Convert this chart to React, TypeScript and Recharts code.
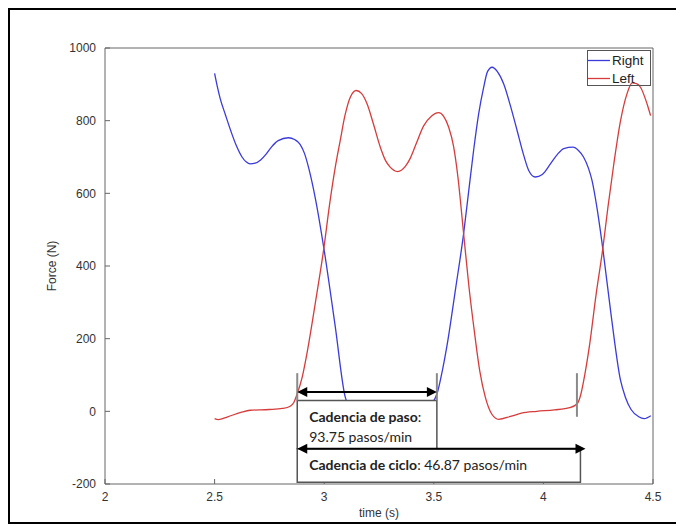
import React from 'react';
import { LineChart, Line, XAxis, YAxis, ReferenceArea, ReferenceLine, Legend } from 'recharts';

// ---- data ----
const rightTime = [2.5, 2.512, 2.525, 2.55, 2.575, 2.6, 2.625, 2.645, 2.662, 2.685, 2.71, 2.735, 2.76, 2.79, 2.837, 2.865, 2.89, 2.91, 2.93, 2.96, 3.0, 3.05, 3.096, 3.13, 3.2, 3.3, 3.4, 3.47, 3.515, 3.54, 3.56, 3.6, 3.636, 3.66, 3.682, 3.705, 3.727, 3.745, 3.766, 3.79, 3.819, 3.85, 3.88, 3.91, 3.933, 3.963, 3.995, 4.032, 4.065, 4.093, 4.135, 4.16, 4.183, 4.205, 4.222, 4.245, 4.271, 4.31, 4.352, 4.374, 4.4, 4.435, 4.46, 4.49];
const rightForce = [930, 895, 862, 815, 770, 730, 700, 686, 681, 683, 692, 708, 728, 745, 753, 748, 735, 710, 668, 585, 443, 235, 39, 0, -15, -8, -2, 10, 49, 115, 180, 340, 489, 610, 720, 820, 890, 935, 947, 935, 901, 840, 773, 705, 663, 645, 652, 681, 708, 723, 727, 718, 700, 670, 635, 558, 448, 260, 85, 39, 5, -15, -20, -12];

const leftTime = [2.5, 2.517, 2.56, 2.62, 2.662, 2.75, 2.81, 2.845, 2.862, 2.875, 2.9, 2.92, 2.96, 2.997, 3.027, 3.05, 3.073, 3.095, 3.12, 3.146, 3.17, 3.195, 3.225, 3.256, 3.28, 3.301, 3.335, 3.37, 3.393, 3.42, 3.453, 3.49, 3.522, 3.545, 3.568, 3.59, 3.61, 3.636, 3.66, 3.685, 3.71, 3.735, 3.765, 3.796, 3.85, 3.9, 3.97, 4.05, 4.12, 4.154, 4.17, 4.184, 4.21, 4.24, 4.271, 4.294, 4.321, 4.352, 4.382, 4.405, 4.425, 4.443, 4.473, 4.489];
const leftForce = [-20, -23, -15, -3, 3, 5, 8, 14, 25, 45, 95, 155, 300, 443, 580, 670, 745, 815, 866, 883, 875, 847, 790, 727, 690, 672, 660, 674, 697, 737, 785, 813, 822, 812, 782, 730, 645, 489, 345, 220, 110, 39, -8, -22, -14, -5, 0, 4, 10, 21, 45, 85, 180, 320, 448, 560, 680, 800, 875, 904, 902, 892, 846, 814];

const seriesNames = ['Right', 'Left'];
const seriesColors = ['#3b3bdc', '#d63c3c'];
const xTicks = [2, 2.5, 3, 3.5, 4, 4.5];
const yTicks = [-200, 0, 200, 400, 600, 800, 1000];
const xDomain = [2, 4.5];
const yDomain = [-200, 1000];

// gait events and annotations (data units)
const eventTimes = [2.877, 3.514, 4.153];
const eventTop = 105;
const eventBottoms = [30, 30, -15];
const stepArrow = { from: 2.877, to: 3.514, force: 53 };
const cycleArrow = { from: 2.877, to: 4.192, force: -103 };
const stepBox = { x1: 2.877, x2: 3.514, y1: -103, y2: 30 };
const cycleBox = { x1: 2.877, x2: 4.169, y1: -195, y2: -103 };
const stepLabel = ['Cadencia de paso', ':', '93.75 pasos/min'];
const cycleLabel = ['Cadencia de ciclo', ': 46.87 pasos/min'];

const rightData = rightTime.map((t, i) => ({ t, force: rightForce[i] }));
const leftData = leftTime.map((t, i) => ({ t, force: leftForce[i] }));

const AXIS = '#666';
const TICKFONT = { fontSize: 12, fill: '#333', fontFamily: 'Liberation Sans, Arial, sans-serif' };
const NOTEFONT = 'Lato, "Open Sans", sans-serif';

const Arrow = (p: any) => {
  const { x1, y1, x2, y2 } = p;
  const h = 10, w = 5;
  return (
    <g>
      <line x1={x1 + h - 1} y1={y1} x2={x2 - h + 1} y2={y2} stroke="#000" strokeWidth={2} />
      <polygon points={`${x1},${y1} ${x1 + h},${y1 - w} ${x1 + h},${y1 + w}`} fill="#000" />
      <polygon points={`${x2},${y2} ${x2 - h},${y2 - w} ${x2 - h},${y2 + w}`} fill="#000" />
    </g>
  );
};

const StepText = (props: any) => {
  const { x, y } = props.viewBox;
  return (
    <g fontFamily={NOTEFONT} fontSize={14} fill="#222">
      <text x={x + 12} y={y + 22}>
        <tspan fontWeight="bold">{stepLabel[0]}</tspan>
        <tspan>{stepLabel[1]}</tspan>
      </text>
      <text x={x + 12} y={y + 42}>{stepLabel[2]}</text>
    </g>
  );
};

const CycleText = (props: any) => {
  const { x, y } = props.viewBox;
  return (
    <g fontFamily={NOTEFONT} fontSize={14} fill="#222">
      <text x={x + 12} y={y + 21}>
        <tspan fontWeight="bold">{cycleLabel[0]}</tspan>
        <tspan>{cycleLabel[1]}</tspan>
      </text>
    </g>
  );
};

const YLabel = (props: any) => {
  const vb = props.viewBox;
  const cx = vb.x + 7;
  const cy = vb.y + vb.height / 2;
  return (
    <text x={cx} y={cy} transform={`rotate(-90, ${cx}, ${cy})`} textAnchor="middle" dominantBaseline="central"
      fontSize={12} fill="#333" fontFamily="Liberation Sans, Arial, sans-serif">Force (N)</text>
  );
};

const XLabel = (props: any) => {
  const vb = props.viewBox;
  const cx = vb.x + vb.width / 2;
  const cy = vb.y + 29;
  return (
    <text x={cx} y={cy} textAnchor="middle" dominantBaseline="central"
      fontSize={12} fill="#333" fontFamily="Liberation Sans, Arial, sans-serif">time (s)</text>
  );
};

const LegendBox = () => (
  <svg width={64} height={36} style={{ display: 'block', overflow: 'visible' }}>
    <rect x={0.5} y={0.5} width={63} height={35} fill="none" stroke="#555" strokeWidth={1} />
    {seriesNames.map((n, i) => (
      <g key={n}>
        <line x1={1} y1={10.5 + i * 18} x2={23} y2={10.5 + i * 18} stroke={seriesColors[i]} strokeWidth={1.3} />
        <text x={25} y={10.5 + i * 18} dominantBaseline="central" fontSize={13.5} fill="#222"
          fontFamily="Liberation Sans, Arial, sans-serif">{n}</text>
      </g>
    ))}
  </svg>
);

export default function App() {
  return (
    <div style={{ width: 670, height: 512, border: '2px solid #000', position: 'relative' }}>
      <LineChart width={670} height={512} margin={{ top: 37, right: 26, left: 35, bottom: 8 }}>
        <XAxis dataKey="t" type="number" domain={xDomain} ticks={xTicks} allowDataOverflow
          tickSize={-5} tickMargin={13} stroke={AXIS} tick={TICKFONT} height={30} label={<XLabel />} />
        <XAxis xAxisId="top" orientation="top" type="number" domain={xDomain} ticks={xTicks} allowDataOverflow
          tickSize={-5} tick={false} stroke={AXIS} height={1} />
        <YAxis type="number" domain={yDomain} ticks={yTicks} allowDataOverflow
          tickSize={-5} tickMargin={14} stroke={AXIS} tick={TICKFONT} width={60} label={<YLabel />} />
        <YAxis yAxisId="right" orientation="right" type="number" domain={yDomain} ticks={yTicks} allowDataOverflow
          tickSize={-5} tick={false} stroke={AXIS} width={1} />
        <Line data={rightData} dataKey="force" name={seriesNames[0]} type="monotone" stroke={seriesColors[0]}
          strokeWidth={1.3} dot={false} isAnimationActive={false} />
        <Line data={leftData} dataKey="force" name={seriesNames[1]} type="monotone" stroke={seriesColors[1]}
          strokeWidth={1.3} dot={false} isAnimationActive={false} />
        <Legend layout="vertical" align="center" verticalAlign="middle" content={() => <LegendBox />}
          wrapperStyle={{ left: 577, top: 40, width: 64, height: 36 }} />
      </LineChart>
      <div style={{ position: 'absolute', left: 0, top: 0 }}>
        <LineChart width={670} height={512} margin={{ top: 38, right: 27, left: 95, bottom: 38 }}>
          <XAxis dataKey="t" type="number" domain={xDomain} allowDataOverflow hide />
          <YAxis type="number" domain={yDomain} allowDataOverflow hide />
          {eventTimes.map((t, i) => (
            <ReferenceLine key={'ev' + i} segment={[{ x: t, y: eventTop }, { x: t, y: eventBottoms[i] }]}
              stroke="#8a8a8a" strokeWidth={2} />
          ))}
          <ReferenceArea x1={stepBox.x1} x2={stepBox.x2} y1={stepBox.y1} y2={stepBox.y2}
            fill="#fff" fillOpacity={1} stroke="#555" strokeWidth={1.5} label={<StepText />} />
          <ReferenceArea x1={cycleBox.x1} x2={cycleBox.x2} y1={cycleBox.y1} y2={cycleBox.y2}
            fill="#fff" fillOpacity={1} stroke="#555" strokeWidth={1.5} label={<CycleText />} />
          <ReferenceLine segment={[{ x: stepArrow.from, y: stepArrow.force }, { x: stepArrow.to, y: stepArrow.force }]}
            shape={(p: any) => <Arrow {...p} />} />
          <ReferenceLine segment={[{ x: cycleArrow.from, y: cycleArrow.force }, { x: cycleArrow.to, y: cycleArrow.force }]}
            shape={(p: any) => <Arrow {...p} />} />
        </LineChart>
      </div>
    </div>
  );
}
